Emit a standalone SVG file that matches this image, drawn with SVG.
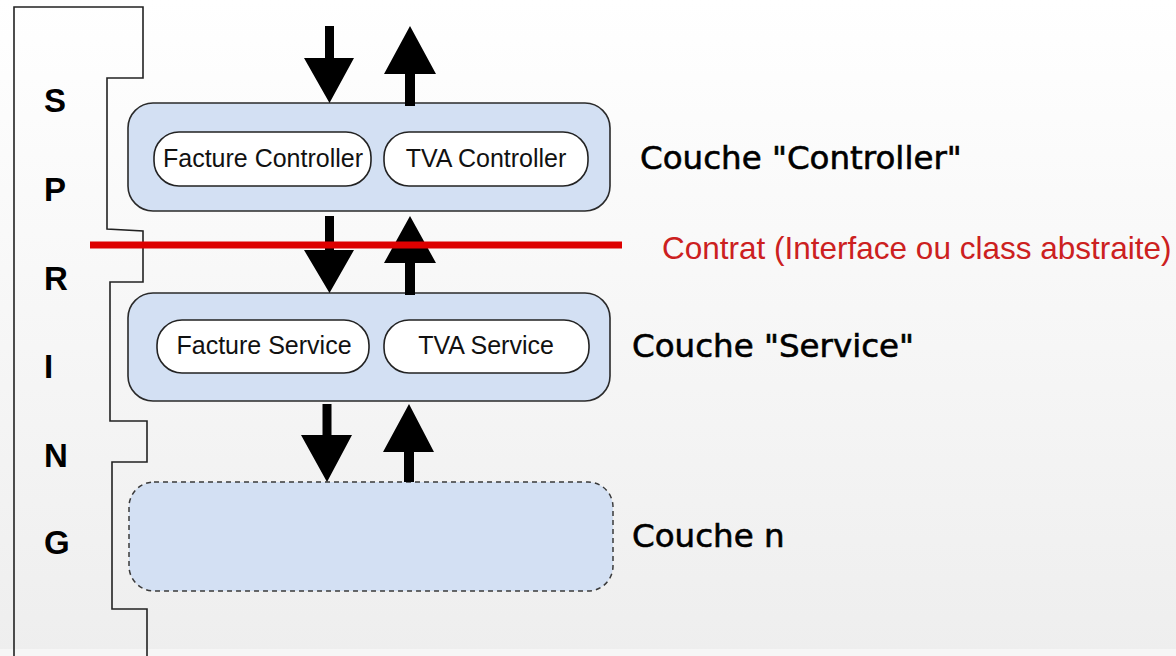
<svg xmlns="http://www.w3.org/2000/svg" width="1176" height="656" viewBox="0 0 1176 656">
  <defs>
    <linearGradient id="bg" x1="0" y1="0" x2="0" y2="1">
      <stop offset="0" stop-color="#ffffff"/>
      <stop offset="1" stop-color="#eeeeee"/>
    </linearGradient>
    <style>
      .layer { fill: #d3e0f3; stroke: #2a2a2a; stroke-width: 1.6; }
      .dashed { fill: #d3e0f3; stroke: #3a3a3a; stroke-width: 1.5; stroke-dasharray: 5 4; }
      .pill { fill: #ffffff; stroke: #222222; stroke-width: 1.6; }
      .pilltxt { font-family: "Liberation Sans", Arial, sans-serif; font-size: 25px; fill: #111111; text-anchor: middle; }
      .label { font-family: "DejaVu Sans", Verdana, sans-serif; font-size: 32.5px; fill: #000000; stroke: #000000; stroke-width: 0.6; }
      .spring { font-family: "Liberation Sans", Arial, sans-serif; font-weight: bold; font-size: 33px; fill: #000000; }
      .contrat { font-family: "Liberation Sans", Arial, sans-serif; font-size: 31.5px; fill: #cc2020; }
      .arrow { fill: #000000; stroke: none; }
    </style>
  </defs>
  <rect x="0" y="0" width="1176" height="656" fill="url(#bg)"/>
  <rect x="0" y="649" width="1176" height="7" fill="#f6f6f6"/>

  <g id="spring">
    <path d="M14,656 V7 H143 V78 H107 V229 L143,231 V282 H110 V421 H147 V462 H112 V609 H147 V656" fill="none" stroke="#222222" stroke-width="1.6"/>
    <text class="spring" x="44" y="112">S</text>
    <text class="spring" x="44" y="201">P</text>
    <text class="spring" x="44" y="290">R</text>
    <text class="spring" x="44" y="378">I</text>
    <text class="spring" x="44" y="467">N</text>
    <text class="spring" x="44" y="554">G</text>
  </g>

  <g id="controller-layer">
    <rect class="layer" x="128" y="103" width="482" height="108" rx="25"/>
    <text class="label" x="640" y="169">Couche "Controller"</text>
  </g>
  <g id="facture-controller">
    <rect class="pill" x="154" y="132" width="217" height="54" rx="25"/>
    <text class="pilltxt" x="263" y="167">Facture Controller</text>
  </g>
  <g id="tva-controller">
    <rect class="pill" x="384" y="132" width="204" height="54" rx="25"/>
    <text class="pilltxt" x="486" y="167">TVA Controller</text>
  </g>

  <g id="service-layer">
    <rect class="layer" x="128" y="293" width="482" height="108" rx="25"/>
    <text class="label" x="632" y="357">Couche "Service"</text>
  </g>
  <g id="facture-service">
    <rect class="pill" x="157" y="320" width="212" height="53" rx="25"/>
    <text class="pilltxt" x="264" y="354">Facture Service</text>
  </g>
  <g id="tva-service">
    <rect class="pill" x="384" y="320" width="205" height="53" rx="25"/>
    <text class="pilltxt" x="486" y="354">TVA Service</text>
  </g>

  <g id="layer-n">
    <rect class="dashed" x="129" y="482" width="484" height="109" rx="25"/>
    <text class="label" x="632" y="547">Couche n</text>
  </g>

  <g id="connectors">
    <path class="arrow" d="M325,26 H334 V58 H354 L329.5,103 L304,58 H325 Z"/>
    <path class="arrow" d="M410,26 L436,74 H415 V106 H405 V74 H384 Z"/>
    <path class="arrow" d="M325,216 H334 V250 H354 L329.5,293 L304,250 H325 Z"/>
    <path class="arrow" d="M410,216 L436,263 H415 V295 H405 V263 H384 Z"/>
    <path class="arrow" d="M322.5,404 H331.5 V435 H352 L327,482 L301,435 H322.5 Z"/>
    <path class="arrow" d="M409,404 L434,452 H414 V482 H404 V452 H383 Z"/>
  </g>

  <g id="contrat">
    <line x1="90" y1="245" x2="622" y2="245" stroke="#dd0000" stroke-width="7"/>
    <text class="contrat" x="662" y="259">Contrat (Interface ou class abstraite)</text>
  </g>
</svg>
